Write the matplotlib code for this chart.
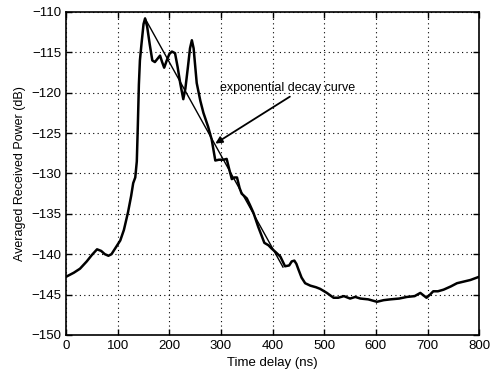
import matplotlib
matplotlib.use("Agg")
import matplotlib.pyplot as plt

plt.rcParams['font.family'] = ['Liberation Sans', 'DejaVu Sans']

# measured averaged power delay profile
delay_ns = [0, 15, 27, 40, 50, 60, 68, 75, 82, 88, 95, 105, 112, 120, 126, 130, 134,
            137, 139, 141, 143, 146, 150, 153, 157, 162, 167, 172, 177, 182, 186, 190,
            195, 200, 205, 211, 216, 221, 227, 231, 236, 240, 243.6, 247, 253, 260, 266,
            275, 282, 289, 296, 305, 311, 316, 321, 326, 331, 336, 340, 345, 350, 356,
            363, 372, 378, 384, 392, 398, 405, 415, 424, 432, 437, 442, 446, 450, 456,
            463, 473, 484, 492, 505, 518, 527, 538, 550, 560, 570, 585, 602, 615, 628,
            645, 660, 675, 686, 692, 698, 705, 711, 720, 731, 745, 757, 770, 783, 800]
power_db = [-142.8, -142.3, -141.8, -140.9, -140.1, -139.4, -139.6, -140.0, -140.2, -140.0,
            -139.3, -138.3, -137.0, -134.8, -132.8, -131.2, -130.5, -128.5, -124.0, -119.0,
            -116.0, -114.0, -111.5, -110.8, -111.8, -114.0, -116.0, -116.2, -115.8, -115.4,
            -116.2, -116.9, -116.0, -115.2, -114.9, -115.1, -116.8, -118.8, -120.8, -119.5,
            -116.8, -114.5, -113.5, -114.5, -118.8, -121.0, -122.5, -124.2, -125.8, -128.4,
            -128.3, -128.3, -128.2, -129.5, -130.7, -130.5, -130.5, -131.8, -132.5, -132.8,
            -133.1, -133.9, -134.9, -136.6, -137.6, -138.6, -138.9, -139.3, -139.7, -140.3,
            -141.5, -141.4, -140.9, -140.8, -141.2, -141.9, -142.9, -143.6, -143.9, -144.1,
            -144.3, -144.8, -145.4, -145.4, -145.2, -145.5, -145.3, -145.5, -145.6, -145.9,
            -145.7, -145.6, -145.5, -145.3, -145.2, -144.8, -145.1, -145.4, -145.0, -144.6,
            -144.6, -144.4, -144.0, -143.6, -143.4, -143.2, -142.8]

# exponential decay fit (straight line in dB)
decay_x = [153, 420]
decay_y = [-110.8, -141.6]

x_ticks = [0, 100, 200, 300, 400, 500, 600, 700, 800]
y_ticks = [-150, -145, -140, -135, -130, -125, -120, -115, -110]

fig = plt.figure(figsize=(4.93, 3.75), dpi=100)
ax = fig.add_axes([0.134, 0.107, 0.838, 0.861])

ax.plot(delay_ns, power_db, color='black', lw=1.8)
ax.plot(decay_x, decay_y, color='black', lw=1.0)

ax.set_xlim(0, 800)
ax.set_ylim(-150, -110)
ax.set_xticks(x_ticks)
ax.set_yticks(y_ticks)
ax.set_yticklabels([str(v).replace('-', '\u2212') for v in y_ticks])
ax.grid(True, linestyle=(0, (1, 3)), color='black', lw=0.8)
ax.tick_params(direction='in', length=4, labelsize=9.5, width=1,
               top=True, right=True)
for s in ax.spines.values():
    s.set_linewidth(1.2)

ax.set_xlabel('Time delay (ns)', fontsize=9.5)
ax.set_ylabel('Averaged Received Power (dB)', fontsize=9)

ax.annotate('exponential decay curve', xy=(289, -126.3), xytext=(298, -119.4),
            fontsize=9, va='center', ha='left',
            arrowprops=dict(arrowstyle='-|>', color='black', lw=1.3,
                            shrinkA=0, shrinkB=0, mutation_scale=10,
                            relpos=(0.55, 0.0)))

fig.savefig('out.png', dpi=100)
